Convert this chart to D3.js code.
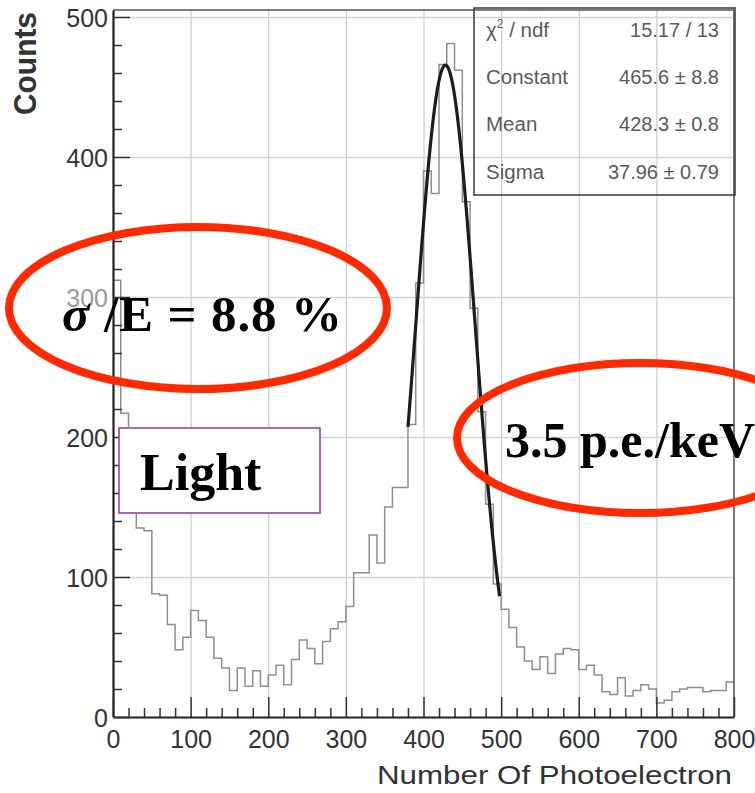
<!DOCTYPE html>
<html>
<head>
<meta charset="utf-8">
<script src="https://cdn.jsdelivr.net/npm/d3@7"></script>
<style>
  body { margin: 0; background: #fff; }
  svg { display: block; }
  .tick text { font-family: "Liberation Sans", Arial, sans-serif; }
</style>
</head>
<body>
<svg id="chart" width="755" height="793"></svg>
<script>
// Photoelectron spectrum: 80 bins of width 10 between 0 and 800
const binWidth = 10;
const binLow = d3.range(0, 800, binWidth);
const counts = [
  312, 217, 180, 135, 133, 88, 87, 66, 48, 57,
  76, 69, 57, 42, 35, 19, 35, 22, 33, 22,
  30, 37, 23, 41, 55, 49, 38, 54, 63, 68,
  79, 103, 103, 130, 110, 150, 164, 164, 209, 310,
  390, 374, 466, 481, 462, 368, 292, 218, 152, 95,
  77, 64, 50, 40, 34, 43, 31, 45, 49, 48,
  34, 37, 30, 18, 16, 28, 15, 19, 23, 20,
  10, 12, 18, 20, 21, 21, 18, 19, 19, 25
];

// Gaussian fit of the photopeak
const fitConstant = 465.6;
const fitMean = 428.3;
const fitSigma = 37.96;
const fitRange = [380, 498];

const xTicks = [0, 100, 200, 300, 400, 500, 600, 700, 800];
const yTicks = [0, 100, 200, 300, 400, 500];
const xDomain = [0, 800];
const yDomain = [0, 505];

const statLabels = ["χ", "Constant", "Mean", "Sigma"];
const statValues = ["15.17 / 13", "465.6 ± 8.8", "428.3 ± 0.8", "37.96 ± 0.79"];

const svg = d3.select("#chart");
const plotLeft = 113, plotRight = 734, plotTop = 10, plotBottom = 717;

const x = d3.scaleLinear().domain(xDomain).range([plotLeft, plotRight]);
const y = d3.scaleLinear().domain(yDomain).range([plotBottom, plotTop]);

const sans = '"Liberation Sans", Arial, sans-serif';
const serif = '"Liberation Serif", "Times New Roman", serif';

// grid
svg.append("g")
  .attr("transform", `translate(0,${plotBottom})`)
  .call(d3.axisBottom(x).tickValues(xTicks.slice(1, -1)).tickSize(-(plotBottom - plotTop)).tickFormat(""))
  .call(g => g.select(".domain").remove())
  .call(g => g.selectAll("line").attr("stroke", "#cfcfcf").attr("stroke-width", 1.3));
svg.append("g")
  .attr("transform", `translate(${plotLeft},0)`)
  .call(d3.axisLeft(y).tickValues(yTicks.slice(1)).tickSize(-(plotRight - plotLeft)).tickFormat(""))
  .call(g => g.select(".domain").remove())
  .call(g => g.selectAll("line").attr("stroke", "#d4d4d4").attr("stroke-width", 1.3));

// histogram as a step outline
const stepPts = [];
binLow.forEach((lo, i) => {
  stepPts.push([lo, counts[i]]);
  stepPts.push([lo + binWidth, counts[i]]);
});
svg.append("path")
  .datum(stepPts)
  .attr("fill", "none")
  .attr("stroke", "#8f8f8f")
  .attr("stroke-width", 1.5)
  .attr("d", d3.line().x(d => x(d[0])).y(d => y(d[1])));

// fitted gaussian
const gauss = v => fitConstant * Math.exp(-0.5 * Math.pow((v - fitMean) / fitSigma, 2));
const fitPts = d3.range(fitRange[0], fitRange[1] + 0.01, 0.5).map(v => [v, gauss(v)]);
svg.append("path")
  .datum(fitPts)
  .attr("fill", "none")
  .attr("stroke", "#1c1c1c")
  .attr("stroke-width", 3.2)
  .attr("stroke-linejoin", "round")
  .attr("d", d3.line().x(d => x(d[0])).y(d => y(d[1])).curve(d3.curveMonotoneX));

// frame
svg.append("path")
  .attr("d", `M${plotLeft},${plotTop}H${plotRight}V${plotBottom}`)
  .attr("fill", "none").attr("stroke", "#555").attr("stroke-width", 1.6);

// x axis: minor ticks, then major ticks with labels
const xMinor = d3.range(0, 801, 20).filter(v => v % 100 !== 0);
svg.append("g")
  .attr("transform", `translate(0,${plotBottom})`)
  .call(d3.axisBottom(x).tickValues(xMinor).tickSize(-9).tickFormat("").tickSizeOuter(0))
  .call(g => g.select(".domain").remove())
  .call(g => g.selectAll("line").attr("stroke", "#333").attr("stroke-width", 1.5));
svg.append("g")
  .attr("transform", `translate(0,${plotBottom})`)
  .call(d3.axisBottom(x).tickValues(xTicks).tickSize(-20).tickSizeOuter(0))
  .call(g => g.select(".domain").attr("stroke", "#222").attr("stroke-width", 2.2))
  .call(g => g.selectAll("line").attr("stroke", "#333").attr("stroke-width", 1.5))
  .call(g => g.selectAll("text").attr("y", 31).attr("dy", 0)
    .attr("font-size", 25).attr("fill", "#333").attr("font-family", sans));

// y axis
const yMinor = d3.range(0, 501, 20).filter(v => v % 100 !== 0);
svg.append("g")
  .attr("transform", `translate(${plotLeft},0)`)
  .call(d3.axisLeft(y).tickValues(yMinor).tickSize(-9).tickFormat("").tickSizeOuter(0))
  .call(g => g.select(".domain").remove())
  .call(g => g.selectAll("line").attr("stroke", "#333").attr("stroke-width", 1.5));
svg.append("g")
  .attr("transform", `translate(${plotLeft},0)`)
  .call(d3.axisLeft(y).tickValues(yTicks).tickSize(-17).tickSizeOuter(0))
  .call(g => g.select(".domain").attr("stroke", "#222").attr("stroke-width", 2.2))
  .call(g => g.selectAll("line").attr("stroke", "#333").attr("stroke-width", 1.5))
  .call(g => g.selectAll("text").attr("x", -5).attr("dy", "0.36em")
    .attr("font-size", 25).attr("fill", d => d === 300 ? "#9a9a9a" : "#333").attr("font-family", sans));

// axis titles
svg.append("text")
  .attr("x", 732).attr("y", 784)
  .attr("text-anchor", "end")
  .attr("font-family", sans).attr("font-size", 26.5).attr("fill", "#333")
  .attr("textLength", 355).attr("lengthAdjust", "spacingAndGlyphs")
  .text("Number Of Photoelectron");
svg.append("text")
  .attr("transform", "translate(36,115) rotate(-90)")
  .attr("font-family", sans).attr("font-size", 31).attr("font-weight", "bold").attr("fill", "#333")
  .attr("textLength", 103).attr("lengthAdjust", "spacingAndGlyphs")
  .text("Counts");

// fit statistics box
svg.append("rect")
  .attr("x", 474).attr("y", 8).attr("width", 261).attr("height", 187)
  .attr("fill", "none").attr("stroke", "#444").attr("stroke-width", 1.6);
const statRows = [37, 84, 131, 179];
statLabels.forEach((lab, i) => {
  const t = svg.append("text")
    .attr("x", 486).attr("y", statRows[i])
    .attr("font-family", sans).attr("font-size", 20.5).attr("fill", "#5a5a5a");
  if (i === 0) {
    t.append("tspan").text(lab);
    t.append("tspan").attr("font-size", 12).attr("dy", -9).text("2");
    t.append("tspan").attr("dy", 9).text(" / ndf");
  } else {
    t.text(lab);
  }
  svg.append("text")
    .attr("x", 719).attr("y", statRows[i])
    .attr("text-anchor", "end")
    .attr("font-family", sans).attr("font-size", 20).attr("fill", "#5a5a5a")
    .text(statValues[i]);
});

// annotations
const red = "#ff2a00";
svg.append("ellipse")
  .attr("cx", 198).attr("cy", 308).attr("rx", 189).attr("ry", 81)
  .attr("fill", "none").attr("stroke", red).attr("stroke-width", 8);
const res = svg.append("text")
  .attr("x", 62).attr("y", 331)
  .attr("font-family", serif).attr("font-size", 51).attr("font-weight", "bold").attr("fill", "#000")
  .attr("textLength", 280).attr("lengthAdjust", "spacing");
res.append("tspan").attr("font-style", "italic").text("σ");
res.append("tspan").text(" /E = 8.8 %");

svg.append("ellipse")
  .attr("cx", 640).attr("cy", 438).attr("rx", 183).attr("ry", 75)
  .attr("fill", "none").attr("stroke", red).attr("stroke-width", 8);
svg.append("text")
  .attr("x", 505).attr("y", 457)
  .attr("font-family", serif).attr("font-size", 50).attr("font-weight", "bold").attr("fill", "#000")
  .text("3.5 p.e./keV");

svg.append("rect")
  .attr("x", 119).attr("y", 428).attr("width", 201).attr("height", 85)
  .attr("fill", "#fff").attr("stroke", "#9b3fae").attr("stroke-width", 1.6);
svg.append("text")
  .attr("x", 140).attr("y", 490)
  .attr("font-family", serif).attr("font-size", 52).attr("font-weight", "bold").attr("fill", "#000")
  .text("Light");
</script>
</body>
</html>
